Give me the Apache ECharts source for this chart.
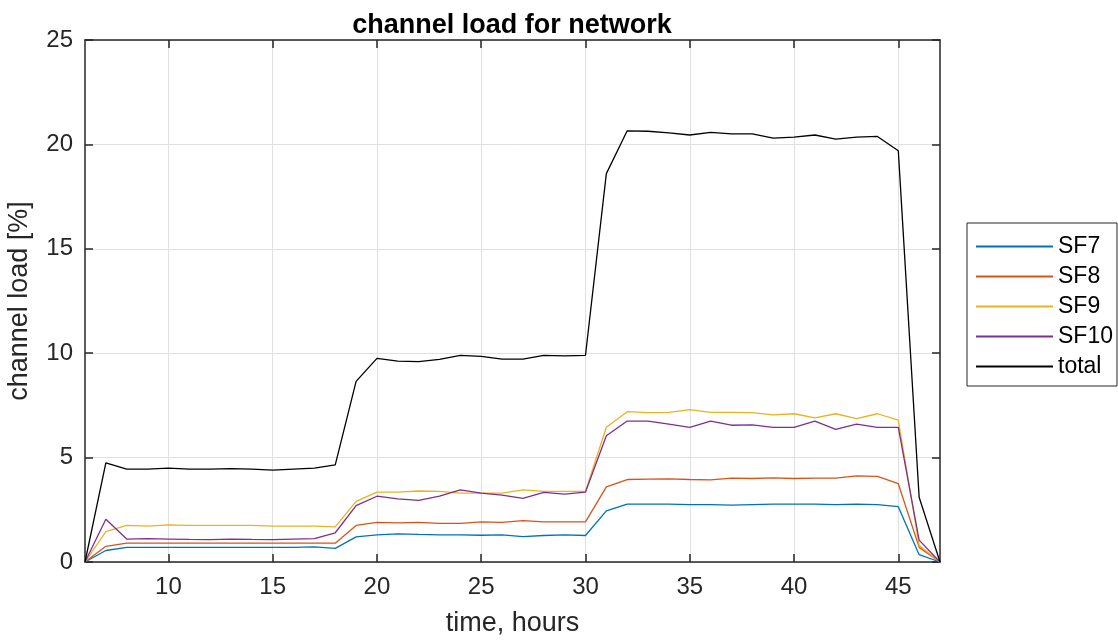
<!DOCTYPE html>
<html>
<head>
<meta charset="utf-8">
<script src="https://cdn.jsdelivr.net/npm/echarts@6/dist/echarts.min.js"></script>
<style>html,body{margin:0;padding:0;background:#fff;}#c{width:1118px;height:642px;}</style>
</head>
<body>
<div id="c"></div>
<script>
const hours = [6,7,8,9,10,11,12,13,14,15,16,17,18,19,20,21,22,23,24,25,26,27,28,29,30,31,32,33,34,35,36,37,38,39,40,41,42,43,44,45,46,47];
const sf7   = [0,0.55,0.7,0.7,0.7,0.7,0.7,0.7,0.7,0.7,0.7,0.72,0.65,1.2,1.3,1.35,1.32,1.3,1.3,1.28,1.3,1.22,1.27,1.3,1.27,2.45,2.77,2.77,2.77,2.75,2.75,2.72,2.75,2.77,2.77,2.77,2.75,2.77,2.75,2.65,0.35,0];
const sf8   = [0,0.75,0.9,0.9,0.9,0.9,0.9,0.9,0.9,0.9,0.9,0.9,0.9,1.75,1.9,1.87,1.9,1.85,1.85,1.92,1.9,1.98,1.92,1.92,1.92,3.6,3.95,3.97,3.98,3.95,3.93,4.02,4.0,4.03,4.0,4.02,4.02,4.12,4.1,3.75,0.7,0];
const sf9   = [0,1.45,1.75,1.72,1.78,1.75,1.75,1.75,1.75,1.72,1.72,1.72,1.68,2.9,3.35,3.35,3.4,3.38,3.3,3.3,3.3,3.45,3.38,3.38,3.38,6.45,7.2,7.15,7.17,7.3,7.17,7.17,7.15,7.05,7.1,6.9,7.1,6.87,7.1,6.8,0.8,0];
const sf10  = [0,2.05,1.1,1.12,1.1,1.08,1.07,1.1,1.08,1.07,1.1,1.12,1.4,2.7,3.15,3.02,2.95,3.15,3.45,3.3,3.2,3.05,3.33,3.25,3.35,6.05,6.75,6.75,6.6,6.45,6.75,6.55,6.57,6.45,6.45,6.75,6.35,6.6,6.45,6.45,1.05,0];
const total = [0,4.75,4.45,4.45,4.5,4.45,4.45,4.47,4.45,4.4,4.45,4.5,4.65,8.65,9.75,9.62,9.6,9.7,9.9,9.85,9.72,9.72,9.9,9.87,9.9,18.6,20.65,20.63,20.55,20.45,20.58,20.5,20.5,20.3,20.35,20.45,20.25,20.35,20.38,19.7,3.1,0];
const xTicks = [10,15,20,25,30,35,40,45];
const yTicks = [0,5,10,15,20,25];
const names = ['SF7','SF8','SF9','SF10','total'];
const colors = ['#0072BD','#D95319','#EDB120','#7E2F8E','#000000'];

const FONT = '"Liberation Sans", Arial, Helvetica, sans-serif';
const TXT = '#262626';
const seriesData = [sf7, sf8, sf9, sf10, total];

const chart = echarts.init(document.getElementById('c'), null, {renderer: 'canvas'});
const baseX = {type:'value', min:6, max:47, gridIndex:0};
const tickStyle = {show:true, inside:true, length:8, lineStyle:{color:TXT, width:1.5}, customValues:xTicks};
chart.setOption({
  animation:false,
  backgroundColor:'#ffffff',
  textStyle:{fontFamily:FONT},
  title:{text:'channel load for network', left:507, top:7, textAlign:'center',
    textStyle:{fontFamily:FONT, fontSize:27, fontWeight:'bold', color:'#000'}},
  grid:{left:85, right:178, top:40, bottom:80, containLabel:false, outerBoundsMode:'none', show:false},
  legend:{orient:'vertical', left:967, top:223,
    data:names, itemWidth:77, itemHeight:10, itemGap:7, itemStyle:{opacity:0},
    padding:[12,4,8,8], borderColor:TXT, borderWidth:1, backgroundColor:'#fff',
    textStyle:{fontFamily:FONT, fontSize:23, color:'#000'}},
  xAxis:[
    Object.assign({}, baseX, {position:'bottom', name:'time, hours', nameLocation:'middle', nameGap:48,
      nameTextStyle:{fontFamily:FONT, fontSize:27, color:TXT},
      axisLine:{show:true, onZero:false, lineStyle:{color:TXT, width:1.5}},
      axisTick:tickStyle,
      axisLabel:{customValues:xTicks, fontFamily:FONT, fontSize:24, color:TXT, margin:13},
      splitLine:{show:true, lineStyle:{color:'#e0e0e0', width:1}}}),
    Object.assign({}, baseX, {position:'top',
      axisLine:{show:true, onZero:false, lineStyle:{color:TXT, width:1.5}},
      axisTick:tickStyle, axisLabel:{show:false}, splitLine:{show:false}})
  ],
  yAxis:[
    {type:'value', min:0, max:25, interval:5, position:'left', name:'channel load [%]', nameLocation:'middle', nameGap:52,
      nameTextStyle:{fontFamily:FONT, fontSize:27, color:TXT},
      axisLine:{show:true, onZero:false, lineStyle:{color:TXT, width:1.5}},
      axisTick:{show:true, inside:true, length:8, lineStyle:{color:TXT, width:1.5}},
      axisLabel:{fontFamily:FONT, fontSize:24, color:TXT, margin:12},
      splitLine:{show:true, lineStyle:{color:'#e0e0e0', width:1}}},
    {type:'value', min:0, max:25, interval:5, position:'right',
      axisLine:{show:true, onZero:false, lineStyle:{color:TXT, width:1.5}},
      axisTick:{show:true, inside:true, length:8, lineStyle:{color:TXT, width:1.5}},
      axisLabel:{show:false}, splitLine:{show:false}}
  ],
  series: names.map((n,i)=>({
    name:n, type:'line', xAxisIndex:0, yAxisIndex:0, symbol:'none',
    lineStyle:{color:colors[i], width:1.3}, itemStyle:{color:colors[i]},
    data: hours.map((h,j)=>[h, seriesData[i][j]])
  }))
});
</script>
</body>
</html>
